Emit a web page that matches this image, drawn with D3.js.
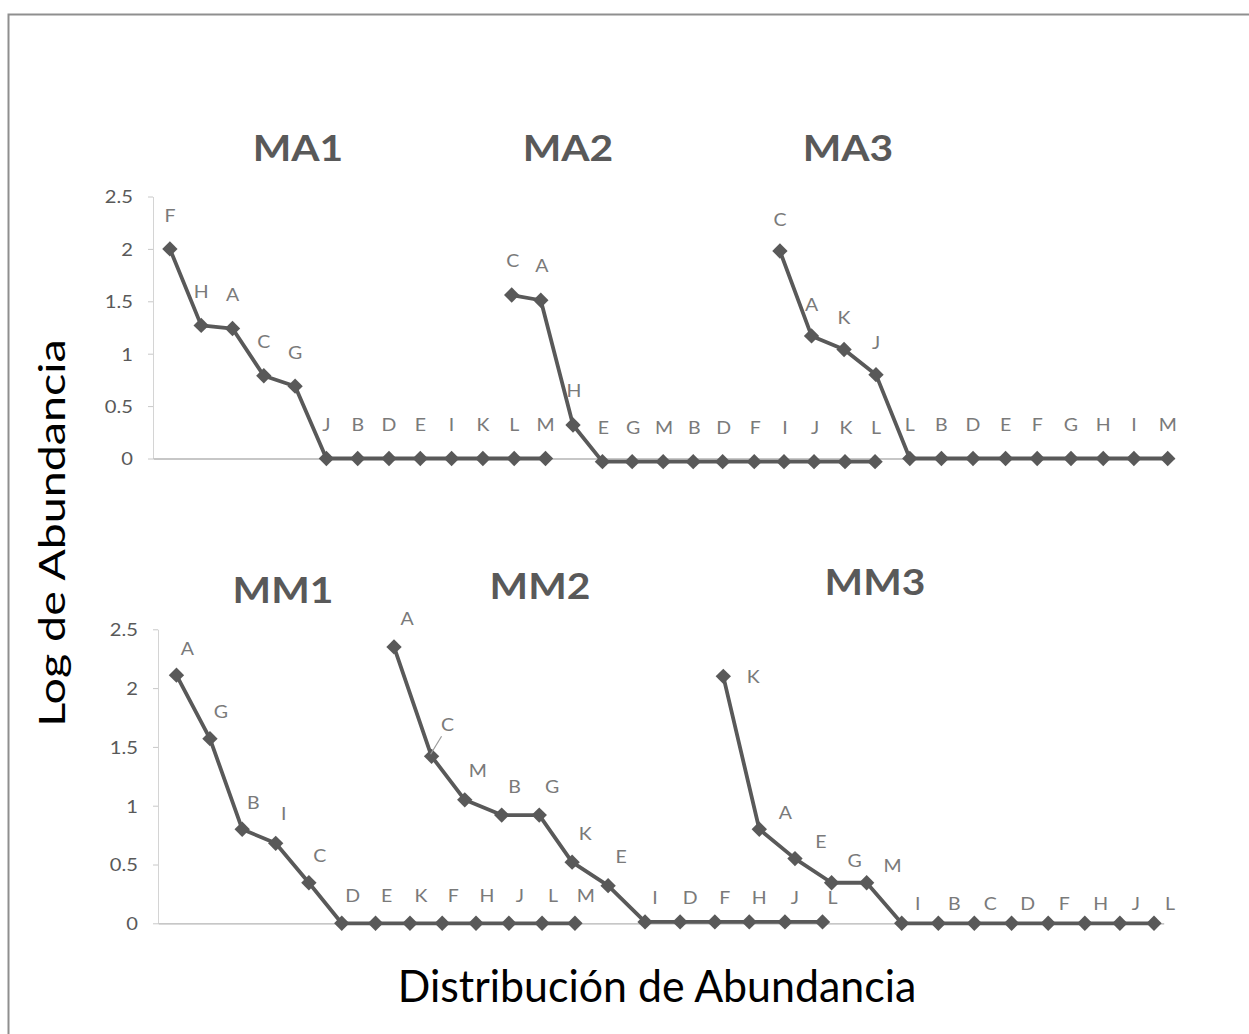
<!DOCTYPE html>
<html><head><meta charset="utf-8">
<script src="https://cdn.jsdelivr.net/npm/d3@7"></script>
<style>body{margin:0;background:#fff} svg{display:block}</style>
</head><body><svg id="c" width="1249" height="1034"></svg>
<script>
// ---------- data ----------
const yTicks = [0, 0.5, 1, 1.5, 2, 2.5];
const tickLabels = ["0", "0.5", "1", "1.5", "2", "2.5"];
const topTitles = ["MA1", "MA2", "MA3"];
const bottomTitles = ["MM1", "MM2", "MM3"];
const yAxisTitle = "Log de Abundancia";
const xAxisTitle = "Distribución de Abundancia";

const ma1Species = ["F","H","A","C","G","J","B","D","E","I","K","L","M"];
const ma1X = [1, 2, 3, 4, 5, 6, 7, 8, 9, 10, 11, 12, 13];
const ma1Y = [2.0, 1.27, 1.24, 0.79, 0.69, 0, 0, 0, 0, 0, 0, 0, 0];

const ma2Species = ["C","A","H","E","G","M","B","D","F","I","J","K","L"];
const ma2X = [11.92, 12.85, 13.88, 14.82, 15.77, 16.76, 17.72, 18.66, 19.67, 20.62, 21.58, 22.57, 23.53];
const ma2Y = [1.56, 1.51, 0.32, -0.03, -0.03, -0.03, -0.03, -0.03, -0.03, -0.03, -0.03, -0.03, -0.03];

const ma3Species = ["C","A","K","J","L","B","D","E","F","G","H","I","M"];
const ma3X = [20.49, 21.50, 22.54, 23.56, 24.64, 25.65, 26.66, 27.70, 28.71, 29.79, 30.82, 31.80, 32.88];
const ma3Y = [1.98, 1.17, 1.04, 0.80, 0, 0, 0, 0, 0, 0, 0, 0, 0];

const mm1Species = ["A","G","B","I","C","D","E","K","F","H","J","L","M"];
const mm1X = [1.21, 2.28, 3.31, 4.38, 5.44, 6.49, 7.57, 8.67, 9.70, 10.78, 11.83, 12.89, 13.94];
const mm1Y = [2.11, 1.57, 0.80, 0.68, 0.345, 0, 0, 0, 0, 0, 0, 0, 0];

const mm2Species = ["A","C","M","B","G","K","E","I","D","F","H","J","L"];
const mm2X = [8.16, 9.36, 10.42, 11.60, 12.80, 13.85, 15.00, 16.18, 17.30, 18.41, 19.51, 20.65, 21.85];
const mm2Y = [2.35, 1.42, 1.05, 0.92, 0.92, 0.52, 0.32, 0.012, 0.012, 0.012, 0.012, 0.012, 0.012];

const mm3Species = ["K","A","E","G","M","I","B","C","D","F","H","J","L"];
const mm3X = [18.68, 19.83, 20.97, 22.14, 23.26, 24.38, 25.55, 26.70, 27.89, 29.06, 30.23, 31.35, 32.44];
const mm3Y = [2.10, 0.80, 0.55, 0.345, 0.345, 0, 0, 0, 0, 0, 0, 0, 0];

// ---------- style / layout ----------
const FONT = "Lato, 'Open Sans', sans-serif";
const SERIES = "#595959";
const svg = d3.select("#c");

svg.append("rect").attr("x", 8.5).attr("y", 14.5).attr("width", 1260).attr("height", 1040)
  .attr("fill", "#fff").attr("stroke", "#8f8f8f").attr("stroke-width", 2);

function zip(sp, xs, ys) { return sp.map((s, i) => ({ s, x: xs[i], y: ys[i] })); }

const panels = [
  {
    xDom: [0.46, 33.1], xRange: [153, 1174.6], yRange: [458.5, 196.5],
    titles: topTitles, titlePos: [[298, 161], [568, 161], [848, 161]],
    series: [
      { d: zip(ma1Species, ma1X, ma1Y), lab: { dx: 0, dy: -34, zdx: 0, zdy: -34 } },
      { d: zip(ma2Species, ma2X, ma2Y), lab: { dx: 1, dy: -35, zdx: 1, zdy: -34 } },
      { d: zip(ma3Species, ma3X, ma3Y), lab: { dx: 0, dy: -32, zdx: 0, zdy: -34 } }
    ]
  },
  {
    xDom: [0.62, 32.75], xRange: [158, 1163.7], yRange: [923.3, 629.3],
    titles: bottomTitles, titlePos: [[283, 603], [540, 599], [875, 595]],
    series: [
      { d: zip(mm1Species, mm1X, mm1Y), lab: { dx: 11, dy: -27, zdx: 11, zdy: -28 } },
      { d: zip(mm2Species, mm2X, mm2Y), lab: { dx: 13, dy: -29, zdx: 10, zdy: -25 } },
      { d: zip(mm3Species, mm3X, mm3Y), lab: { dx: 26, dy: -17, zdx: 16, zdy: -20 } }
    ]
  }
];

const labelOverride = { "1-1-C": [16, -32], "1-2-K": [30, 0], "1-0-I": [8, -30], "1-2-G": [23, -22] };

panels.forEach((p, pi) => {
  const x = d3.scaleLinear().domain(p.xDom).range(p.xRange);
  const y = d3.scaleLinear().domain([0, 2.5]).range(p.yRange);
  const g = svg.append("g");

  // y axis
  const ya = g.append("g").attr("transform", `translate(${p.xRange[0]},0)`)
    .call(d3.axisLeft(y).tickValues(yTicks).tickFormat((d, i) => tickLabels[i])
      .tickSize(5).tickSizeOuter(0).tickPadding(0));
  ya.select(".domain").attr("stroke", "#d4d4d4");
  ya.selectAll(".tick line").attr("stroke", "#c8c8c8");
  ya.selectAll(".tick text").attr("x", null).attr("dy", "0.35em")
    .attr("font-family", FONT).attr("font-size", 18).attr("fill", "#595959")
    .attr("transform", "translate(-20,0) scale(1.12,1)");

  // x axis line
  const xa = g.append("g").attr("transform", `translate(0,${y(0)})`)
    .call(d3.axisBottom(x).tickValues([]).tickSizeOuter(0));
  xa.select(".domain").attr("stroke", "#b4b4b4").attr("stroke-width", 1.3);

  // titles
  p.titles.forEach((t, i) => {
    g.append("text").attr("transform", `translate(${p.titlePos[i][0]},${p.titlePos[i][1]}) scale(1.2,1.09)`)
      .attr("text-anchor", "middle").attr("font-family", FONT).attr("font-weight", 700)
      .attr("font-size", 34).attr("fill", "#595959").text(t);
  });

  const line = d3.line().x(d => x(d.x)).y(d => y(d.y));
  p.series.forEach((s, si) => {
    g.append("path").datum(s.d).attr("d", line).attr("fill", "none")
      .attr("stroke", SERIES).attr("stroke-width", 3.8).attr("stroke-linejoin", "round");
    g.selectAll(null).data(s.d).join("path")
      .attr("d", d3.symbol().type(d3.symbolSquare).size(118))
      .attr("transform", d => `translate(${x(d.x)},${y(d.y)}) rotate(45)`)
      .attr("fill", SERIES);
    s.d.forEach(d => {
      const key = `${pi}-${si}-${d.s}`;
      let off = Math.abs(d.y) < 0.05 ? [s.lab.zdx, s.lab.zdy] : [s.lab.dx, s.lab.dy];
      if (labelOverride[key]) off = labelOverride[key];
      const lx = x(d.x) + off[0], ly = y(d.y) + off[1];
      if (key === "1-1-C") {
        g.append("line").attr("x1", lx - 6).attr("y1", ly + 12).attr("x2", x(d.x) - 1).attr("y2", y(d.y) - 2)
          .attr("stroke", "#9a9a9a").attr("stroke-width", 1.2);
      }
      g.append("text").attr("transform", `translate(${lx},${ly}) scale(1.15,1.05)`)
        .attr("text-anchor", "middle").attr("dominant-baseline", "central")
        .attr("font-family", FONT).attr("font-size", 17).attr("fill", "#7a7a7a").text(d.s);
    });
  });
});

// axis titles
svg.append("text").attr("transform", `translate(65,533) rotate(-90) scale(1.26,1)`)
  .attr("text-anchor", "middle").attr("font-family", FONT).attr("font-size", 37)
  .attr("fill", "#000").text(yAxisTitle);
svg.append("text").attr("transform", `translate(657,1002) scale(1.1,1.13)`)
  .attr("text-anchor", "middle").attr("font-family", FONT).attr("font-size", 39)
  .attr("fill", "#000").text(xAxisTitle);
</script></body></html>
